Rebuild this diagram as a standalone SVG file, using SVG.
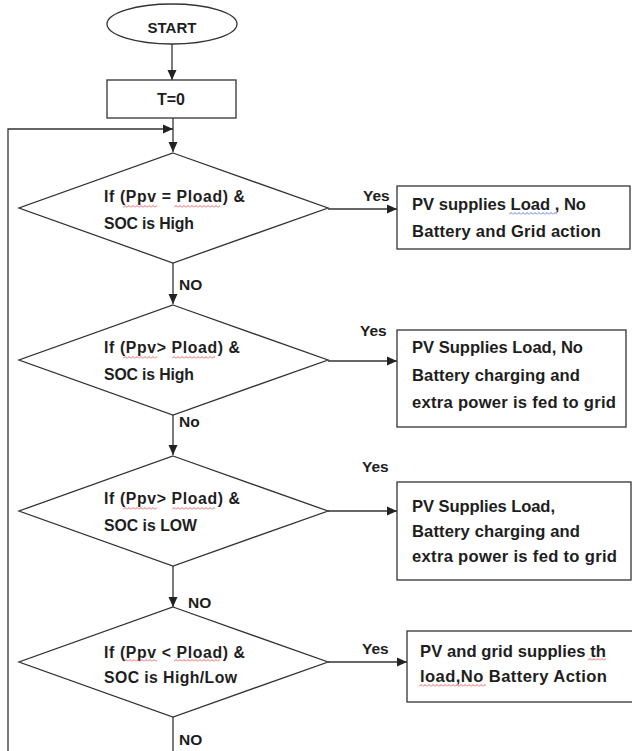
<svg xmlns="http://www.w3.org/2000/svg" width="632" height="751" viewBox="0 0 632 751">
<defs>
<style>
.shape{fill:#fff;stroke:#333;stroke-width:1.3}
.line{fill:none;stroke:#333;stroke-width:1.3}
.t{font-family:"Liberation Sans",Arial,sans-serif;font-weight:bold;fill:#1e1e1e}
.d{font-size:15.8px}
.b{font-size:16.6px}
.lbl{font-size:15.5px}
</style>
<marker id="ah" viewBox="0 0 10 10" refX="10" refY="5" markerWidth="10" markerHeight="10" markerUnits="userSpaceOnUse" orient="auto">
<path d="M0,0.5 L10,5 L0,9.5 Z" fill="#222"/>
</marker>
<pattern id="sqr" width="4" height="3" patternUnits="userSpaceOnUse"><path d="M0,2.5 L2,0.5 L4,2.5" stroke="#e23b3b" fill="none" stroke-width="0.8"/></pattern>
<pattern id="sqb" width="4" height="3" patternUnits="userSpaceOnUse"><path d="M0,2.5 L2,0.5 L4,2.5" stroke="#3b5be2" fill="none" stroke-width="0.8"/></pattern>
</defs>

<g id="connectors">
<line class="line" x1="172" y1="44" x2="172" y2="80" marker-end="url(#ah)"/>
<line class="line" x1="173" y1="118" x2="173" y2="152" marker-end="url(#ah)"/>
<polyline class="line" points="8,751 8,129 173,129" marker-end="url(#ah)"/>
<line class="line" x1="173" y1="263" x2="173" y2="304" marker-end="url(#ah)"/>
<line class="line" x1="173" y1="415" x2="173" y2="455" marker-end="url(#ah)"/>
<line class="line" x1="173" y1="566" x2="173" y2="607" marker-end="url(#ah)"/>
<line class="line" x1="173" y1="717" x2="173" y2="751"/>
<line class="line" x1="328" y1="209" x2="397" y2="209" marker-end="url(#ah)"/>
<line class="line" x1="328" y1="361" x2="397" y2="361" marker-end="url(#ah)"/>
<line class="line" x1="328" y1="511" x2="397" y2="511" marker-end="url(#ah)"/>
<line class="line" x1="328" y1="662" x2="407" y2="662" marker-end="url(#ah)"/>
<text class="t lbl" x="179" y="290">NO</text>
<text class="t lbl" x="179" y="427">No</text>
<text class="t lbl" x="188" y="608">NO</text>
<text class="t lbl" x="179" y="745">NO</text>
<text class="t lbl" x="363" y="201">Yes</text>
<text class="t lbl" x="360" y="336">Yes</text>
<text class="t lbl" x="362" y="472">Yes</text>
<text class="t lbl" x="362" y="654">Yes</text>
</g>

<g id="start">
<ellipse class="shape" cx="172" cy="24" rx="65" ry="20"/>
<text class="t" x="172" y="33" font-size="15" text-anchor="middle">START</text>
</g>

<g id="init">
<rect class="shape" x="107" y="80" width="129" height="38"/>
<text class="t" x="171" y="105" font-size="16" text-anchor="middle">T=0</text>
</g>

<g id="decision1">
<polygon class="shape" points="173,153 328,208 173,263 19,208"/>
<text class="t d" x="104" y="202" textLength="141" lengthAdjust="spacing">If (Ppv = Pload) &amp;</text>
<text class="t d" x="104" y="229" textLength="90" lengthAdjust="spacing">SOC is High</text>
<g transform="translate(123,205)"><rect width="34" height="3" fill="url(#sqr)"/></g>
<g transform="translate(174,205)"><rect width="46" height="3" fill="url(#sqr)"/></g>
</g>

<g id="action1">
<rect class="shape" x="397" y="186" width="233" height="63"/>
<text class="t b" x="412" y="210" textLength="174" lengthAdjust="spacing">PV supplies Load , No</text>
<text class="t b" x="412" y="237" textLength="189" lengthAdjust="spacing">Battery and Grid action</text>
<g transform="translate(509,212)"><rect width="48" height="3" fill="url(#sqb)"/></g>
</g>

<g id="decision2">
<polygon class="shape" points="173,305 328,360 173,415 19,360"/>
<text class="t d" x="104" y="353" textLength="136" lengthAdjust="spacing">If (Ppv&gt; Pload) &amp;</text>
<text class="t d" x="104" y="380" textLength="90" lengthAdjust="spacing">SOC is High</text>
<g transform="translate(123,356)"><rect width="34" height="3" fill="url(#sqr)"/></g>
<g transform="translate(172,356)"><rect width="43" height="3" fill="url(#sqr)"/></g>
</g>

<g id="action2">
<rect class="shape" x="397" y="330" width="229" height="97"/>
<text class="t b" x="412" y="353" textLength="171" lengthAdjust="spacing">PV Supplies Load, No</text>
<text class="t b" x="412" y="381" textLength="168" lengthAdjust="spacing">Battery charging and</text>
<text class="t b" x="412" y="408" textLength="204" lengthAdjust="spacing">extra power is fed to grid</text>
</g>

<g id="decision3">
<polygon class="shape" points="173,456 328,511 173,566 19,511"/>
<text class="t d" x="104" y="504" textLength="136" lengthAdjust="spacing">If (Ppv&gt; Pload) &amp;</text>
<text class="t d" x="104" y="531" textLength="93" lengthAdjust="spacing">SOC is LOW</text>
<g transform="translate(123,507)"><rect width="34" height="3" fill="url(#sqr)"/></g>
<g transform="translate(172,507)"><rect width="43" height="3" fill="url(#sqr)"/></g>
</g>

<g id="action3">
<rect class="shape" x="397" y="482" width="234" height="98"/>
<text class="t b" x="412" y="512" textLength="143" lengthAdjust="spacing">PV Supplies Load,</text>
<text class="t b" x="412" y="537" textLength="168" lengthAdjust="spacing">Battery charging and</text>
<text class="t b" x="412" y="562" textLength="205" lengthAdjust="spacing">extra power is fed to grid</text>
</g>

<g id="decision4">
<polygon class="shape" points="173,607 328,662 173,717 19,662"/>
<text class="t d" x="104" y="658" textLength="141" lengthAdjust="spacing">If (Ppv &lt; Pload) &amp;</text>
<text class="t d" x="104" y="683" textLength="133" lengthAdjust="spacing">SOC is High/Low</text>
<g transform="translate(124,659)"><rect width="33" height="3" fill="url(#sqr)"/></g>
<g transform="translate(174,659)"><rect width="46" height="3" fill="url(#sqr)"/></g>
</g>

<g id="action4">
<rect class="shape" x="407" y="631" width="228" height="71"/>
<text class="t b" x="420" y="657" textLength="186" lengthAdjust="spacing">PV and grid supplies th</text>
<text class="t b" x="420" y="682" textLength="187" lengthAdjust="spacing">load,No Battery Action</text>
<g transform="translate(588,658)"><rect width="18" height="3" fill="url(#sqr)"/></g>
<g transform="translate(419,684)"><rect width="67" height="3" fill="url(#sqr)"/></g>
</g>
</svg>
